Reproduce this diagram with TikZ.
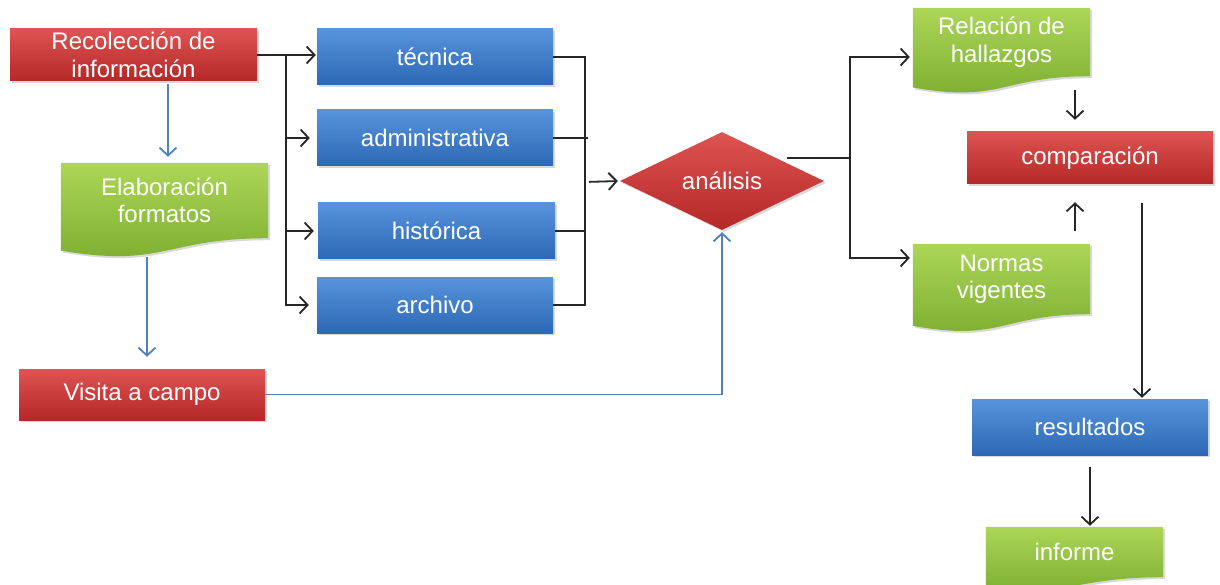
\documentclass[tikz,border=0pt]{standalone}
\usepackage{fontspec}
\setmainfont{Liberation Sans}
\usetikzlibrary{arrows.meta,shapes.geometric,shadows,calc}
\pgfdeclarelayer{background}
\pgfsetlayers{background,main}
\definecolor{redT}{RGB}{222,84,82}
\definecolor{redB}{RGB}{180,40,40}
\definecolor{blueT}{RGB}{88,148,220}
\definecolor{blueB}{RGB}{44,104,180}
\definecolor{greenT}{RGB}{172,214,88}
\definecolor{greenB}{RGB}{122,172,46}
\definecolor{linkblue}{RGB}{79,129,189}
\tikzset{
  shadowed/.style={drop shadow={shadow xshift=2pt,shadow yshift=-2pt,opacity=0.3}},
  box/.style={rectangle, inner sep=0pt, align=center, text=white,
    font=\fontsize{24}{27.5}\selectfont, shadowed},
  redbox/.style={box, top color=redT, bottom color=redB},
  bluebox/.style={box, top color=blueT, bottom color=blueB},
  docbox/.style={rectangle, inner sep=0pt, align=center, text=white,
    font=\fontsize{24}{27.5}\selectfont},
  arr/.style={draw=black!85, line width=1.8pt,
    -{Straight Barb[length=8pt,width=17pt]}},
  barr/.style={draw=linkblue, line width=1.8pt,
    -{Straight Barb[length=8pt,width=17pt]}},
  ln/.style={draw=black!85, line width=1.8pt},
}
\newcommand\docshape[2]{%
  \begin{pgfonlayer}{background}
  \shade[top color=greenT, bottom color=greenB, shadowed]
    (#1.north west) -- (#1.north east) -- (#1.south east)
    .. controls ($(#1.south)$) and ($(#1.south)+(0,0.40*#2)$) ..
    ($(#1.south west)+(0,0.165*#2)$) -- cycle;
  \end{pgfonlayer}}
\begin{document}
\begin{tikzpicture}[x=1pt,y=-1pt]
\useasboundingbox (0,0) rectangle (1220,585);
% nodes
\node[redbox, minimum width=247pt, minimum height=52pt] (rec) at (133.5,55) {Recolección de\\información};
\node[bluebox, minimum width=236pt, minimum height=56pt] (tec) at (435,57) {técnica};
\node[bluebox, minimum width=236pt, minimum height=56pt] (adm) at (435,138) {administrativa};
\node[bluebox, minimum width=237pt, minimum height=56pt] (his) at (436.5,231) {histórica};
\node[bluebox, minimum width=236pt, minimum height=56pt] (arc) at (435,305) {archivo};
\node[redbox, diamond, minimum width=204pt, minimum height=98pt] (ana) at (722,181) {análisis};
\node[docbox, minimum width=177pt, minimum height=68pt] (rel) at (1001.5,42) {Relación de\\hallazgos};
\docshape{rel}{68}
\node[redbox, minimum width=246pt, minimum height=52pt] (comp) at (1090,158) {comparación};
\node[docbox, minimum width=177pt, minimum height=70pt] (nor) at (1001.5,279) {Normas\\vigentes};
\docshape{nor}{70}
\node[bluebox, minimum width=236pt, minimum height=56pt] (res) at (1090,427) {resultados};
\node[docbox, minimum width=177pt, minimum height=50pt] (inf) at (1074.5,552) {informe};
\docshape{inf}{50}
\node[docbox, minimum width=207pt, minimum height=75pt] (ela) at (164.5,200.5) {Elaboración\\formatos};
\docshape{ela}{75}
\node[redbox, minimum width=246pt, minimum height=51pt] (vis) at (142,394.5) {Visita a campo};
% left fork
\coordinate (f1) at ($(rec.east)+(29,0)$);
\draw[arr, shorten >=1pt] (rec.east) -- (tec.west |- rec.east);
\draw[arr, shorten >=8pt] (f1) |- (arc.west);
\draw[arr, shorten >=7pt] (f1 |- adm.west) -- (adm.west);
\draw[arr, shorten >=4pt] (f1 |- his.west) -- (his.west);
% merge
\coordinate (mx) at (585,182);
\draw[ln] (tec.east) -| (mx) |- (arc.east);
\draw[ln] (adm.east) -- ($(adm.east -| mx)+(3,0)$);
\draw[ln] (his.east) -- (his.east -| mx);
\draw[arr, shorten <=4pt, shorten >=2pt] (mx) -- (ana.west);
% right fork
\coordinate (a1) at ([xshift=-37pt,yshift=23pt]ana.east);
\coordinate (b) at ($(a1)+(63,0)$);
\draw[ln] (a1) -- (b);
\draw[arr, shorten >=3pt] (b) |- ([yshift=-15pt]rel.west);
\draw[arr, shorten >=3pt] (b) |- ([yshift=21pt]nor.west);
% comparison
\coordinate (c1) at ([xshift=-15pt]comp.center);
\coordinate (c2) at ([xshift=52pt]comp.center);
\draw[arr, shorten <=14pt, shorten >=12pt] (rel.south -| c1) -- (comp.north -| c1);
\draw[arr, shorten <=13pt, shorten >=18pt] (nor.north -| c1) -- (comp.south -| c1);
\draw[arr, shorten <=19pt, shorten >=1pt] (comp.south -| c2) -- (res.north -| c2);
\draw[arr, shorten <=12pt, shorten >=1pt] (res.south) -- (inf.north -| res.south);
% blue links
\coordinate (e1) at ([xshift=3.5pt]ela.center);
\coordinate (e2) at ([xshift=-17.5pt]ela.center);
\draw[barr, shorten <=3pt, shorten >=6pt] (rec.south -| e1) -- (ela.north -| e1);
\draw[barr, shorten <=19pt, shorten >=12pt] (ela.south -| e2) -- (vis.north -| e2);
\draw[barr, shorten >=2pt] (vis.east) -| (ana.south);
\end{tikzpicture}
\end{document}
